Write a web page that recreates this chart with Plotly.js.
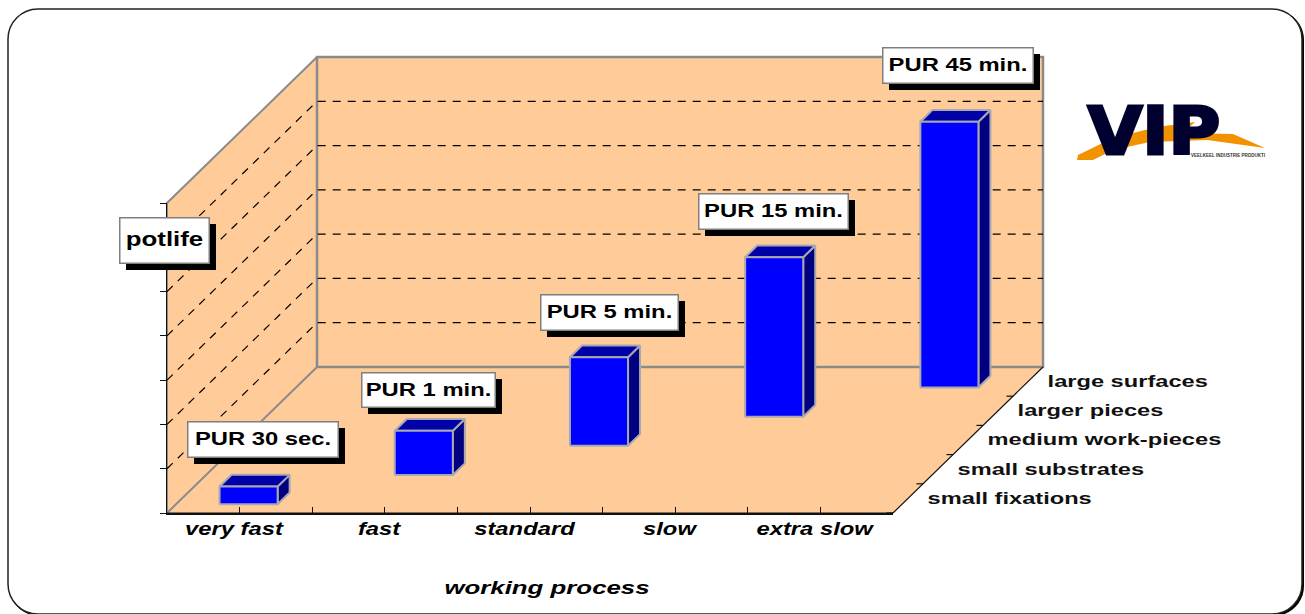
<!DOCTYPE html>
<html>
<head>
<meta charset="utf-8">
<script src="https://cdn.plot.ly/plotly-3.0.1.min.js"></script>
<style>html,body{margin:0;padding:0;background:#fff;overflow:hidden}#chart{width:1305px;height:614px}</style>
</head>
<body>
<div id="chart"></div>
<script>
// ---- data ----
const categories = ["very fast", "fast", "standard", "slow", "extra slow"];
const depthLabels = ["small fixations", "small substrates", "medium work-pieces", "larger pieces", "large surfaces"];
const potlife = [0.4, 1.0, 2.0, 3.6, 6.0];
const barLabels = ["PUR 30 sec.", "PUR 1 min.", "PUR 5 min.", "PUR 15 min.", "PUR 45 min."];
const valueTicks = [0, 1, 2, 3, 4, 5, 6, 7];
const xAxisTitle = "working process";
const yAxisLabel = "potlife";

// ---- figure geometry ----
const W = 1305, H = 614;
const plotL = 167, plotR = 893, plotT = 203, plotB = 513;
const YMAX = 7, NX = categories.length, NZ = depthLabels.length;
const unitX = (plotR - plotL) / NX, unitY = (plotB - plotT) / YMAX;
// oblique depth: one depth unit moves 30px right, 29.2px up
const DX = 30 / unitX, DY = 29.2 / unitY;
const px = (x, z) => x + z * DX;
const py = (y, z) => y + z * DY;
const fx = v => v / W, fy = v => 1 - v / H;
const WALL = "#FFCC99", EDGE = "#8a8a8a", BAREDGE = "#A8A8B0";

function poly(pts, name, fill, lineColor, lineWidth) {
  return { type: "scatter", mode: "lines", name, x: pts.map(p => p[0] === null ? null : px(p[0], p[2])),
    y: pts.map(p => p[0] === null ? null : py(p[1], p[2])), fill: "toself", fillcolor: fill,
    line: { color: lineColor, width: lineWidth }, hoverinfo: "skip", showlegend: false };
}
const leftWall = [[0,0,0],[0,YMAX,0],[0,YMAX,NZ],[0,0,NZ],[0,0,0]];
const backWall = [[0,0,NZ],[0,YMAX,NZ],[NX,YMAX,NZ],[NX,0,NZ],[0,0,NZ]];
const floorFace = [[0,0,0],[NX,0,0],[NX,0,NZ],[0,0,NZ],[0,0,0]];
const traces = [];
traces.push(poly(floorFace, "floor", WALL, "rgba(0,0,0,0)", 0));
traces.push(poly(leftWall, "left wall", WALL, EDGE, 2));
traces.push(poly(backWall, "back wall", WALL, EDGE, 2.5));

// grid lines on the walls
const gx = [], gy = [];
valueTicks.slice(1, -1).forEach(v => {
  gx.push(px(0,0), px(0,NZ), px(NX,NZ), null);
  gy.push(py(v,0), py(v,NZ), py(v,NZ), null);
});
traces.push({ type:"scatter", mode:"lines", name:"grid", x:gx, y:gy, hoverinfo:"skip", showlegend:false,
  line:{ color:"#000", width:1.2, dash:"8px,7px" } });

// right floor edge with depth ticks
const ex = [px(NX,0), px(NX,NZ), null], ey = [py(0,0), py(0,NZ), null];
depthLabels.forEach((_, i) => { ex.push(px(NX,i)-0.045, px(NX,i), null); ey.push(py(0,i), py(0,i), null); });
traces.push({ type:"scatter", mode:"lines", name:"depth axis", x:ex, y:ey, hoverinfo:"skip", showlegend:false,
  line:{ color:"#111", width:1.2 } });

// 3-D bars
const frontFace = [], topFace = [], sideFace = [];
const gap = 0.3, bw = 0.4;
potlife.forEach((v, i) => {
  const a = i + gap, b = a + bw, n = i + gap, f = n + bw;
  frontFace.push([a,0,n],[b,0,n],[b,v,n],[a,v,n],[a,0,n],[null]);
  topFace.push([a,v,n],[b,v,n],[b,v,f],[a,v,f],[a,v,n],[null]);
  sideFace.push([b,0,n],[b,0,f],[b,v,f],[b,v,n],[b,0,n],[null]);
});
traces.push(poly(sideFace, "bar side", "#000080", BAREDGE, 2));
traces.push(poly(topFace, "bar top", "#0000A8", BAREDGE, 2));
traces.push(poly(frontFace, "bar front", "#0000FF", BAREDGE, 2));

// depth axis labels
traces.push({ type:"scatter", mode:"text", name:"depth labels",
  x: depthLabels.map((_, i) => px(NX, i + 0.5) + 0.135),
  y: depthLabels.map((_, i) => py(0, i + 0.5) - 0.025),
  text: depthLabels, textposition:"middle right", hoverinfo:"skip", showlegend:false,
  textfont:{ family:"Liberation Sans", size:17, weight:700, color:"#111" } });

// visible front-plane axes carry this baseline
traces.push({ type:"scatter", mode:"lines", name:"baseline", xaxis:"x2", yaxis:"y2", x:[0,NX], y:[0,0],
  line:{ color:"#111", width:1 }, hoverinfo:"skip", showlegend:false });

// labelled boxes [left, top, right, bottom] in page space
const boxes = [[187,421,338,457],[361,372,495,407],[540,294,678,330],[698,193,848,229],[882,47,1033,83]];
const potBox = [119,217,209,263];
const annFont = { family:"Liberation Sans", size:17.5, weight:700, color:"#000" };
const annotations = [], shapes = [];
function rectShape(b, dx, dy) {
  return { type:"rect", xref:"paper", yref:"paper", layer:"above", x0:fx(b[0]+dx), x1:fx(b[2]+dx), y0:fy(b[1]+dy), y1:fy(b[3]+dy),
    fillcolor:"#000", line:{ width:0 } };
}
function boxNote(b, text, font) {
  shapes.push(rectShape(b, 7, 7));
  annotations.push({ xref:"paper", yref:"paper", x:fx(b[0]), y:fy(b[1]), xanchor:"left", yanchor:"top",
    width:b[2]-b[0]-2, height:b[3]-b[1]-2, borderpad:0, borderwidth:1.5, bordercolor:"#7f7f7f", bgcolor:"#fff",
    text, showarrow:false, align:"center", valign:"middle", font });
}
boxes.forEach((b, i) => boxNote(b, barLabels[i], annFont));
boxNote(potBox, yAxisLabel, { family:"Liberation Sans", size:20.5, weight:700, color:"#000" });

// rounded outer frame
function rounded(l, t, r, b, rad) {
  const k = rad * 0.45;
  const P = (x, y) => fx(x) + "," + fy(y);
  return "M" + P(l+rad,t) + " L" + P(r-rad,t) + " C" + P(r-k,t) + " " + P(r,t+k) + " " + P(r,t+rad) +
    " L" + P(r,b-rad) + " C" + P(r,b-k) + " " + P(r-k,b) + " " + P(r-rad,b) +
    " L" + P(l+rad,b) + " C" + P(l+k,b) + " " + P(l,b-k) + " " + P(l,b-rad) +
    " L" + P(l,t+rad) + " C" + P(l,t+k) + " " + P(l+k,t) + " " + P(l+rad,t) + " Z";
}
shapes.unshift(
  { type:"path", xref:"paper", yref:"paper", layer:"below", path:rounded(9,10,1304,616,30), fillcolor:"#000", line:{ width:0 } },
  { type:"path", xref:"paper", yref:"paper", layer:"below", path:rounded(8,9,1302,614,30), fillcolor:"#fff", line:{ color:"#222", width:1.5 } }
);

// logo
const swoosh = [[1077,160],[1078,155],[1113,138],[1157,127],[1195,122],[1183,133],[1233,134],[1265,148],[1207,140],[1150,142],[1113,150],[1093,160]];
shapes.splice(2, 0, { type:"path", xref:"paper", yref:"paper", layer:"above",
  path:"M" + swoosh.map(p => fx(p[0]) + "," + fy(p[1])).join(" L") + " Z", fillcolor:"#F39200", line:{ width:0 } });
annotations.push({ xref:"paper", yref:"paper", x:fx(1154), y:fy(131), xanchor:"center", yanchor:"middle", showarrow:false, text:"VIP",
  font:{ family:"DejaVu Sans", size:66, weight:700, color:"#00002E" } });
annotations.push({ xref:"paper", yref:"paper", x:fx(1189), y:fy(155), xanchor:"left", yanchor:"middle", showarrow:false,
  text:"VEELKEEL INDUSTRIE PRODUKTI", font:{ family:"Liberation Sans", size:4.5, weight:700, color:"#333" } });

const layout = {
  width:W, height:H, margin:{ l:0, r:0, t:0, b:0 }, paper_bgcolor:"#fff", plot_bgcolor:"rgba(0,0,0,0)", showlegend:false,
  // full-page axes on the same data scale as the front plane: the oblique walls and bars reach outside it
  xaxis:{ visible:false, domain:[0,1], range:[-plotL/unitX, (W-plotL)/unitX], fixedrange:true },
  yaxis:{ visible:false, domain:[0,1], range:[(plotB-H)/unitY, plotB/unitY], fixedrange:true },
  xaxis2:{ anchor:"y2", domain:[fx(plotL), fx(plotR)], range:[0,NX], showgrid:false, zeroline:false, showline:true, linecolor:"#111", linewidth:1.5,
    tickmode:"array", tickvals:categories.flatMap((_, i) => [i + 0.5, i + 1]), ticktext:categories.flatMap(c => [c, ""]),
    ticks:"inside", ticklen:6, tickcolor:"#111", tickwidth:1, tickangle:0, ticklabelstandoff:0,
    tickfont:{ family:"Liberation Sans", size:17.5, weight:700, style:"italic", color:"#000" },
    title:{ text:xAxisTitle, standoff:42, font:{ family:"Liberation Sans", size:19, weight:700, style:"italic", color:"#000" } } },
  yaxis2:{ anchor:"x2", domain:[fy(plotB), fy(plotT)], range:[0,YMAX], showgrid:false, zeroline:false, showline:true, linecolor:"#111", linewidth:1.5,
    tickmode:"array", tickvals:valueTicks, showticklabels:false, ticks:"outside", ticklen:6, tickcolor:"#111", tickwidth:1 },
  shapes, annotations, hovermode:false
};

Plotly.newPlot("chart", traces, layout, { staticPlot:true, displayModeBar:false }).then(gd => {
  // the reference picture is stretched horizontally: widen its text the same way
  const scaleOf = { "VIP": 1.07, "potlife": 1.26 };
  const shiftOf = { "potlife": -2 };
  const widen = (sel, opts) => gd.querySelectorAll(sel).forEach(t => {
    const s = t.textContent.trim();
    if (!s) return;
    if (s === "VIP") { t.style.stroke = "#00002E"; t.style.strokeWidth = "3px"; }
    const bb = t.getBBox();
    const o = opts.left ? bb.x : bb.x + bb.width / 2;
    const k = s.startsWith("VEELKEEL") ? 1.0 : (scaleOf[s] || opts.sx || 1.36);
    const prev = t.getAttribute("transform") || "";
    t.setAttribute("transform", prev + " translate(" + (o + (opts.dx||0)) + " " + (shiftOf[s]||0) + ") scale(" + k + " 1) translate(" + (-o) + " 0)");
  });
  widen(".x2tick text", { dx:-5.5 });
  widen(".annotation-text", {});
  widen(".textpoint text", { left:true, sx:1.39 });
  widen(".g-x2title text", { dx:17 });
});
</script>
</body>
</html>
